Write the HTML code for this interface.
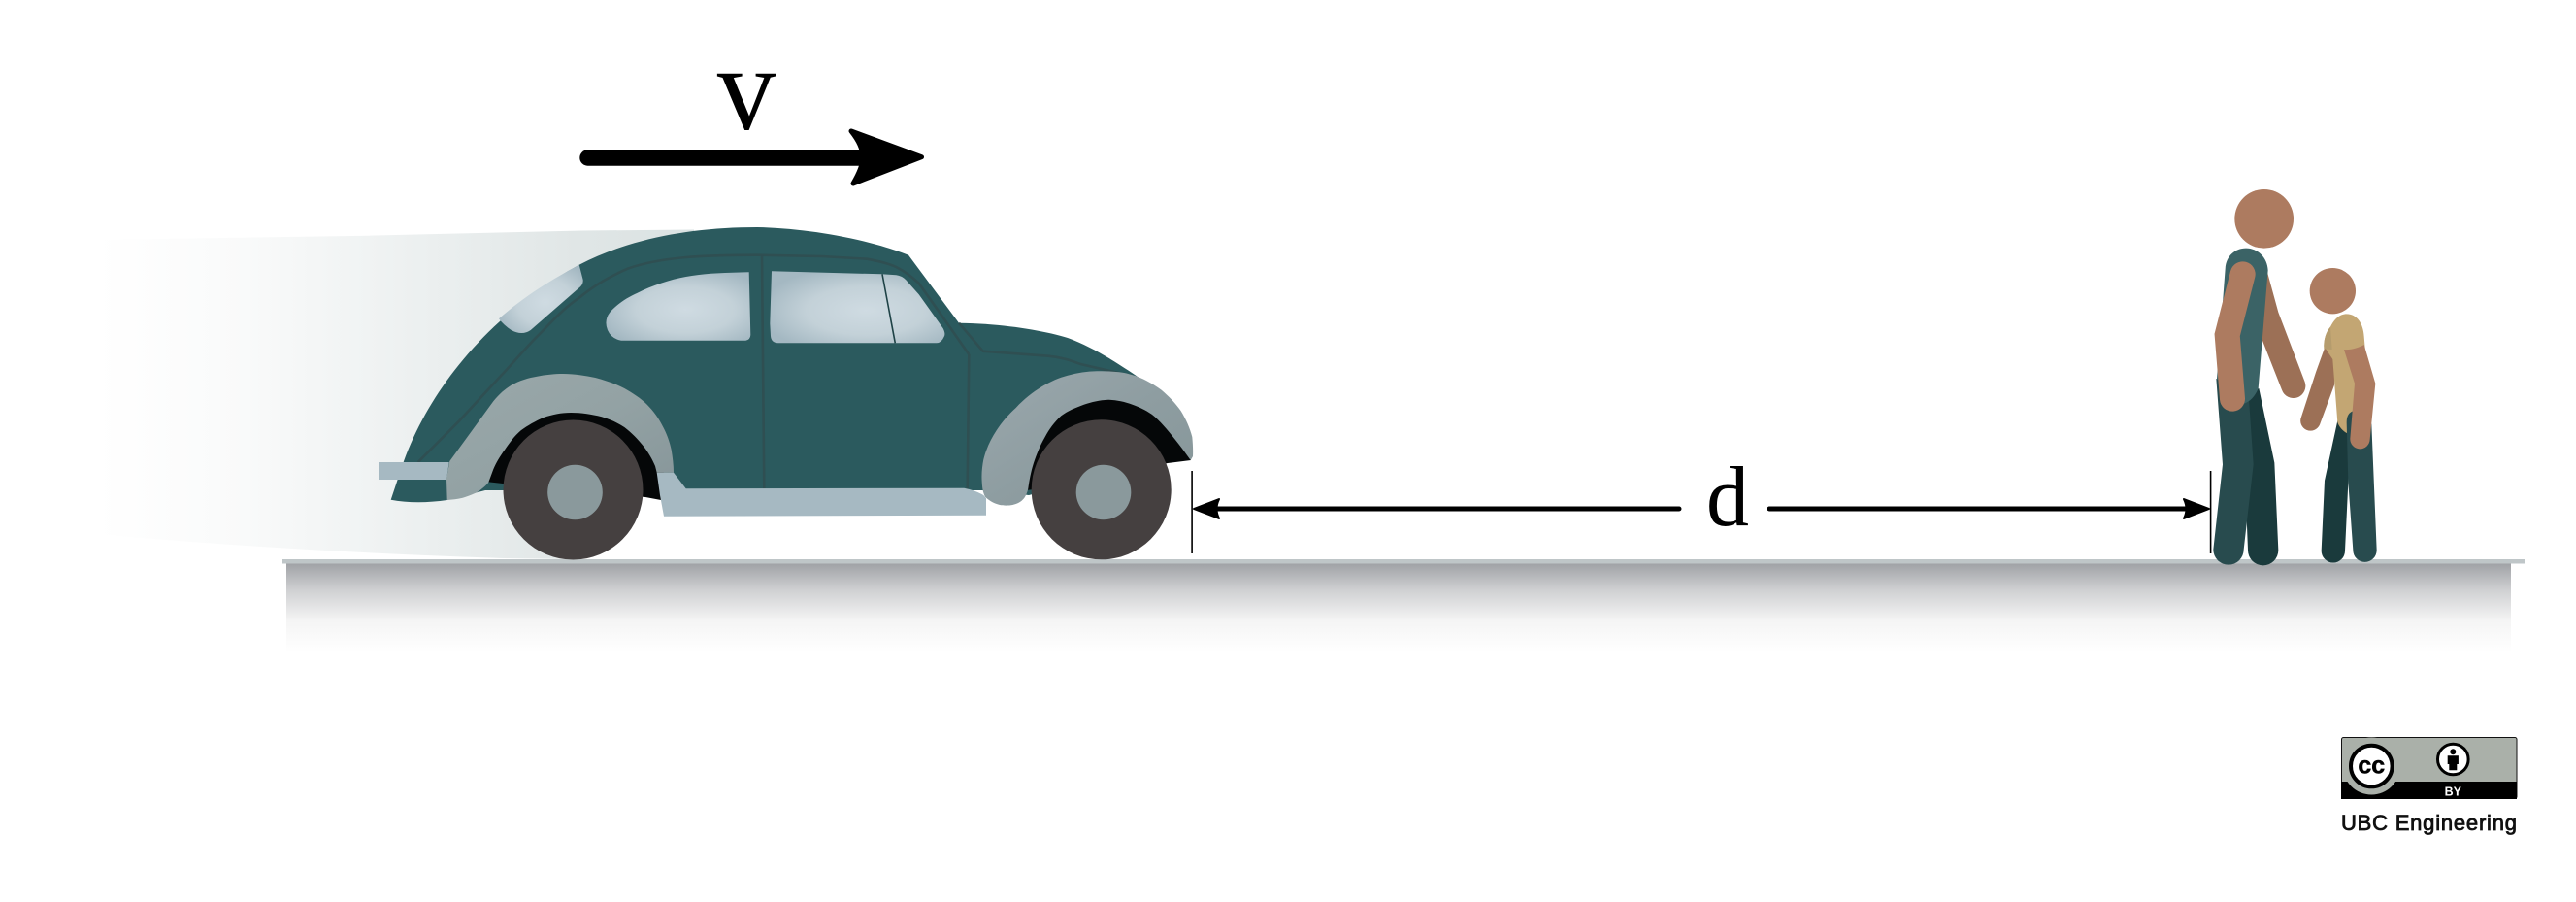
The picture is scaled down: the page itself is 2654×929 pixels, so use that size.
<!DOCTYPE html>
<html lang="en">
<head>
<meta charset="utf-8">
<title>Stopping distance diagram</title>
<style>
html,body{margin:0;padding:0;background:#fff;width:2654px;height:929px;overflow:hidden}
svg{display:block}
</style>
</head>
<body>
<svg xmlns="http://www.w3.org/2000/svg" width="2654" height="929" viewBox="0 0 2654 929">
<defs>
<linearGradient id="trail" gradientUnits="userSpaceOnUse" x1="100" x2="720" y1="0" y2="0"><stop offset="0" stop-color="#fff"/><stop offset=".25" stop-color="#f9fafa"/><stop offset=".45" stop-color="#f0f3f3"/><stop offset=".8" stop-color="#e0e6e6"/><stop offset="1" stop-color="#dae2e2"/></linearGradient>
<linearGradient id="road" x1="0" x2="0" y1="0" y2="1"><stop offset="0" stop-color="#9fa1a5"/><stop offset=".3" stop-color="#cfd0d2"/><stop offset=".65" stop-color="#f5f5f5"/><stop offset="1" stop-color="#fff"/></linearGradient>
<radialGradient id="glass" cx=".55" cy=".55" r=".62"><stop offset="0" stop-color="#cfdbe2"/><stop offset=".55" stop-color="#c3d1d8"/><stop offset="1" stop-color="#a4b8c2"/></radialGradient>
<linearGradient id="fenderRear" x1="0" x2="1" y1="0" y2="1"><stop offset="0" stop-color="#9aa8aa"/><stop offset=".5" stop-color="#93a2a4"/><stop offset="1" stop-color="#869599"/></linearGradient>
<linearGradient id="fenderFront" x1="0" x2="1" y1="0" y2="1"><stop offset="0" stop-color="#9ba8ad"/><stop offset=".5" stop-color="#8e9da1"/><stop offset="1" stop-color="#869699"/></linearGradient>
</defs>

<path fill="url(#trail)" d="M100,247 L380,242.7 L600,237.5 L715,236.5 L715,300 L600,500 L590,576 L520,575 Q300,568 100,550 Z"/>

<rect x="295" y="580" width="2292" height="92" fill="url(#road)"/>
<rect x="291" y="576" width="2310" height="4.5" fill="#bfc6c8"/>

<g>
  <path fill="#2b5a5e" d="M402.7,514.7 L416,475 C445,395 510,320 596.7,272.7 C650,245 715,234 780,234 C830,235 890,245 936,262.7 L988,332.7 C1030,333 1075,340 1100,348 C1125,357 1150,373 1171.7,387.7 L1171,480 L1060,510 L1016,505 L680,505 L500,505 L460.7,515 C440,518 420,518 402.7,514.7 Z"/>
  <path fill="none" stroke="#2f4f52" stroke-width="2.6" d="M430.7,476 L473.3,433.3 L513.3,390 C525,378 540,360 553.3,346.7 C570,330 580,318 596.7,306.7 C615,292 630,284 646.7,276.7 C665,270 685,267 706.7,265 C730,263 755,262.7 780,262.7 L846.7,264 L893.3,266.7 C905,269 915,271 923.3,275 C935,281 940,286 946.7,291.7 L966.7,320 L998.3,365"/>
  <path fill="none" stroke="#2f4f52" stroke-width="2.6" d="M988,332.7 L1012.7,361.7 L1080,366.7 C1095,368 1105,372 1113.3,375 L1168,387.7"/>
  <path fill="none" stroke="#2f4f52" stroke-width="2.6" d="M785,263.3 L787.3,503.3"/>
  <path fill="none" stroke="#2f4f52" stroke-width="2.6" d="M998.3,365 L996.7,503.3"/>
  <path fill="url(#glass)" d="M596.7,272.7 L600.7,288.3 Q601,292 598.3,295 L546.7,340 Q538,346 526.7,340 Q519,335 514,328.3 C540,305 570,287 596.7,272.7 Z"/>
  <path fill="url(#glass)" d="M771.7,280.3 L773.3,345 Q773,350 768.3,350.7 L640,350.7 Q630,349 626,340 Q622,330 628.3,321.7 C637,312 647,306 656.7,301.7 C672,294 690,288 706.7,285 C725,281.5 745,280.7 771.7,280.3 Z"/>
  <path fill="url(#glass)" d="M795,279.3 L908.3,282.3 L923.3,283.3 Q929,284 933.3,288.3 L946.7,303.3 L971.7,338.3 Q974.5,344 972.7,346.7 Q970,353 965,353.3 L801.7,353.3 Q794.5,353 794,346 L793.3,333.3 Z"/>
  <path fill="none" stroke="#1f4347" stroke-width="1.6" d="M909,282.3 L922.3,353.3"/>
  <path fill="#050708" d="M500,496 L518,498 L665,512 L681,515 L685,475 L655,430 L590,416 L540,428 L512,455 Z"/>
  <path fill="url(#fenderRear)" d="M463.3,475 L508.3,413.3 C515,405 520,401 526.7,396.7 C535,392 545,389 553.3,387.7 C562,386 572,385 580,385 C592,385 603,387 613.3,389 C624,392 634,395 643.3,400 C652,405 660,410 666.7,416.7 C673,423 679,431 683.3,440 C687,447 690,455 691.7,463.3 C693,471 694,479 694,486.7 L676.7,486.7 L675,480 C672,473 668,466 663.3,460 C657,452 651,446 643.3,440 C636,435 628,432 620,429.3 C609,426.5 599,425 588.3,425 C578,425 569,427 560,430 C551,434 544,438 536.7,443.3 C530,449 525,456 520,463.3 C515,470 511,477 508.3,483.3 L503.3,496.7 C501,500 497,503 493.3,506 C488,509 482,511 476.7,512.7 C471,514 466,514.5 460.7,515 L460,493.3 Z"/>
  <path fill="#a6b9c2" d="M390,476 L462.7,476 L460,494 L390,494 Z"/>
  <path fill="#a6b9c2" d="M676.7,486.7 L694,486.7 L706.7,503.3 L993.3,502.7 Q1005,505 1013.3,510 L1016,513.3 L1016,530.7 L684,531.7 L680,510 Z"/>
  <path fill="#050708" d="M1055,505 L1080,503 L1203,477 L1227,474 L1218,448 L1190,418 L1140,403 L1100,412 L1072,438 L1058,475 Z"/>
  <path fill="url(#fenderFront)" d="M1011.7,496.7 C1011,488 1012,480 1013.3,473.3 C1016,462 1021,452 1026.7,443.3 C1032,435 1039,427 1046.7,420 C1055,411 1064,404 1073.3,398.3 C1082,393 1091,389 1100,386.7 C1110,384 1120,382.5 1130,382.3 C1138,382 1146,382.5 1153.3,383.3 C1160,384 1166,386 1171.7,387.7 C1180,391 1189,396 1196.7,401.7 C1204,408 1211,415 1216.7,423.3 C1222,432 1226,441 1228.3,450 C1229,457 1229.3,464 1229,470 L1226.7,474 C1221,466 1216,459 1210,451.7 C1203,443 1195,433 1186.7,426.7 C1180,422 1173,419 1166.7,416.7 C1158,413.5 1150,412 1141.7,411.7 C1133,412 1125,414 1116.7,416.7 C1108,420 1100,423 1093.3,428.3 C1086,435 1081,442 1076.7,450 C1071,460 1068,468 1065,476.7 C1062,486 1060.5,495 1059.3,503.3 C1058.5,507 1057,510.5 1055,513.3 C1052,517 1048,519 1043.3,520 C1039,520.8 1034,520.8 1030,520 C1024,518.5 1019,515.5 1015,511.7 C1012.5,507 1012,502 1011.7,496.7 Z"/>
  <circle cx="590.5" cy="504.5" r="72" fill="#454040"/>
  <circle cx="592.5" cy="507" r="28.3" fill="#8a999c"/>
  <circle cx="1134.7" cy="504.3" r="72" fill="#454040"/>
  <circle cx="1137" cy="507" r="28.3" fill="#8a999c"/>
</g>

<g>
  <path stroke="#000" stroke-width="16.4" stroke-linecap="round" d="M605.5,162.5 L890,162.5"/>
  <path fill="#000" stroke="#000" stroke-width="5" stroke-linejoin="round" d="M877,135 L949.5,161.7 L879,189 Q889,172 889,162 Q889,150 877,135 Z"/>
</g>
<text transform="translate(769,133) scale(.97,1)" x="0" y="0" font-family="'Liberation Serif',serif" font-size="124" text-anchor="middle" fill="#000">v</text>

<g>
  <rect x="1227.3" y="485" width="1.6" height="85" fill="#000"/>
  <rect x="2276.8" y="485" width="1.6" height="85" fill="#000"/>
  <path stroke="#000" stroke-width="5" stroke-linecap="round" d="M1250,524 L1730,524"/>
  <path stroke="#000" stroke-width="5" stroke-linecap="round" d="M1823,524 L2255,524"/>
  <path fill="#000" stroke="#000" stroke-width="2" stroke-linejoin="round" d="M1230,524 L1256,514 Q1251,524 1256,534 Z"/>
  <path fill="#000" stroke="#000" stroke-width="2" stroke-linejoin="round" d="M2276,524 L2250,514 Q2255,524 2250,534 Z"/>
  <text x="1780" y="541" font-family="'Liberation Serif',serif" font-size="88" text-anchor="middle" fill="#000">d</text>
</g>

<g transform="translate(2240,170) scale(.33333)">
  <g>
    <path fill="#9c7056" d="M285,320 L322,455 L404,670 A37,37 0 0 1 333,695 L272,540 L250,400 Z"/>
    <path fill="#1a3a3c" d="M262,690 L310,920 L322,1190 A47,47 0 0 1 228,1190 L224,1090 L200,720 Z"/>
    <path fill="#284b4e" d="M130,660 L150,925 L121,1188 A47,47 0 0 0 215,1188 L245,925 L228,680 Z"/>
    <path fill="#3b6366" d="M158,320 C160,280 190,257 222,257 C258,257 288,285 290,325 L260,690 C250,715 235,730 215,738 L132,660 Z"/>
    <path fill="none" stroke="#ad7b60" stroke-width="78" stroke-linecap="round" stroke-linejoin="miter" d="M212,337 L164,525 L180,722"/>
    <circle cx="278" cy="166" r="91" fill="#ad7b60"/>
  </g>
  <g>
    <path fill="#9c7056" d="M465,565 L438,640 L393,778 A30,30 0 0 0 450,802 L495,680 L500,570 Z"/>
    <path fill="#1a3a3c" d="M505,790 L465,975 L455,1192 A36,36 0 0 0 528,1192 L538,980 L545,800 Z"/>
    <path fill="#c3a673" d="M483,500 C495,475 512,460 533,460 C565,460 585,490 587,530 L590,565 L560,700 L550,835 C530,830 512,815 505,795 L490,600 L463,560 C463,535 470,515 483,500 Z"/>
    <path fill="#b59c6d" d="M483,500 L488,570 L463,568 C461,540 470,515 483,500 Z"/>
    <path fill="#284b4e" d="M533,795 C533,775 540,765 552,760 L610,800 L626,1190 A36,36 0 0 1 553,1190 L538,980 Z"/>
    <path fill="#ad7b60" d="M525,570 C545,572 570,565 587,555 L622,675 L605,848 A30,30 0 0 1 544,845 L558,675 Z"/>
    <circle cx="490" cy="389" r="71" fill="#ad7b60"/>
  </g>
</g>

<g>
  <rect x="2412.5" y="759.5" width="180.5" height="63" rx="2" fill="#aab0a9" stroke="#111" stroke-width="1"/>
  <rect x="2412" y="805" width="181" height="18" fill="#000"/>
  <circle cx="2443.3" cy="789" r="29.5" fill="#aab0a9"/>
  <circle cx="2443.3" cy="789" r="21.3" fill="#fff" stroke="#000" stroke-width="4"/>
  <text x="2443.3" y="796.5" font-family="'Liberation Sans',sans-serif" font-weight="700" font-size="25" text-anchor="middle" fill="#000" stroke="#000" stroke-width=".5">cc</text>
  <circle cx="2527.3" cy="782" r="15.8" fill="#fff" stroke="#000" stroke-width="3"/>
  <circle cx="2527.3" cy="774.3" r="3" fill="#000"/>
  <path fill="#000" d="M2521.7,778.3 L2532.9,778.3 L2532.9,787 L2531.3,787 L2531.3,793.3 L2523.3,793.3 L2523.3,787 L2521.7,787 Z"/>
  <text x="2527.3" y="819.3" font-family="'Liberation Sans',sans-serif" font-weight="700" font-size="12.5" text-anchor="middle" fill="#fff">BY</text>
</g>
<text x="2412" y="855" font-family="'Liberation Sans',sans-serif" font-size="22" textLength="181" lengthAdjust="spacing" fill="#111" stroke="#111" stroke-width=".8">UBC Engineering</text>
</svg>
</body>
</html>
